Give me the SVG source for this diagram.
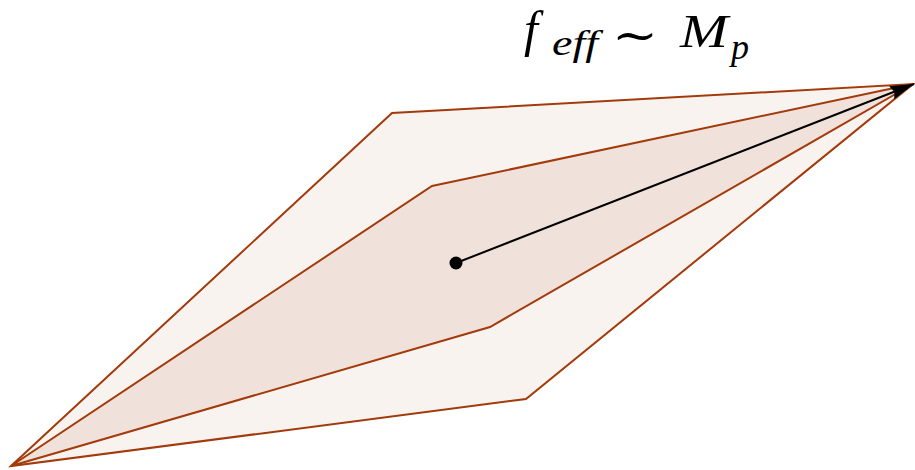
<svg xmlns="http://www.w3.org/2000/svg" width="915" height="470" viewBox="0 0 915 470">
<style>
.poly{stroke:#A33A0B;stroke-width:2;stroke-linejoin:miter}
.m{font-family:"Liberation Serif",serif;font-style:italic;fill:#000}
</style>
<defs>
<marker id="ah2" viewBox="0 0 24 14" refX="24" refY="7" markerWidth="24" markerHeight="14" markerUnits="userSpaceOnUse" orient="auto">
<path d="M0,0 L24,7 L0,14 L3,7 z" fill="#000"/>
</marker>
</defs>
<g id="outer">
<polygon class="poly" fill="#F9F3F0" points="11,466 392,113 913,84 526,399"/>
</g>
<g id="inner">
<polygon class="poly" fill="#F0E2DB" points="11,466 432,186 913,84 490,327"/>
</g>
<g id="connectors">
<line x1="456" y1="263" x2="914" y2="84" stroke="#000" stroke-width="2" marker-end="url(#ah2)"/>
</g>
<g id="center">
<circle cx="456" cy="263" r="6.5" fill="#000"/>
</g>
<g id="label">
<text class="m" x="524" y="46" font-size="50">f</text>
<text class="m" x="552" y="55" font-size="36" textLength="46" lengthAdjust="spacingAndGlyphs">eff</text>
<text x="612" y="51" font-size="46" font-family="DejaVu Serif, serif" textLength="46" lengthAdjust="spacingAndGlyphs">∼</text>
<text class="m" x="680" y="47" font-size="46" textLength="48" lengthAdjust="spacingAndGlyphs">M</text>
<text class="m" x="731" y="59" font-size="36">p</text>
</g>
</svg>
